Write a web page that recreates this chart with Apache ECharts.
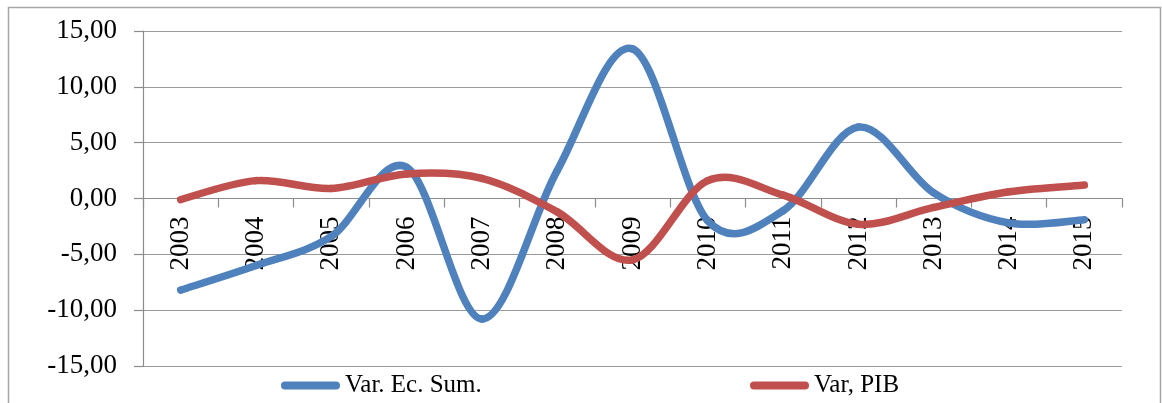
<!DOCTYPE html>
<html>
<head>
<meta charset="utf-8">
<script src="https://cdn.jsdelivr.net/npm/echarts@6/dist/echarts.min.js"></script>
<style>
html,body{margin:0;padding:0;background:#fff;}
#c{width:1162px;height:403px;}
</style>
</head>
<body>
<div id="c"></div>
<script>
const categories = ['2003','2004','2005','2006','2007','2008','2009','2010','2011','2012','2013','2014','2015'];
const varEcSum = [-8.2, -6.0, -3.4, 2.8, -10.8, 2.5, 13.4, -2.0, -1.1, 6.4, 0.5, -2.2, -1.9];
const varPIB   = [-0.1, 1.6, 0.9, 2.2, 1.8, -1.2, -5.5, 1.6, 0.3, -2.3, -0.8, 0.6, 1.2];
const seriesNames = ['Var. Ec. Sum.', 'Var, PIB'];
const seriesColors = ['#4F81BD', '#C0504D'];
const yTicks = { min: -15, max: 15, interval: 5 };

const serif = 'Liberation Serif';
const pill = 'path://M4,0L55,0A4,4,0,0,1,55,8L4,8A4,4,0,0,1,4,0Z';

// Excel-style smoothed line (Catmull-Rom through the data points),
// each segment converted with the chart's own axes via api.coord.
function smoothSeries(name, values, color, z) {
  return {
    name: name,
    type: 'custom',
    z: z,
    color: color,
    itemStyle: { color: color },
    encode: { x: 0, y: 1 },
    data: values.map((v, i) => [i, v]),
    renderItem: function (params, api) {
      const i = params.dataIndex;
      const n = values.length;
      if (i >= n - 1) return null;
      const P = j => {
        const k = Math.max(0, Math.min(n - 1, j));
        return api.coord([k, values[k]]);
      };
      const p0 = P(i - 1), p1 = P(i), p2 = P(i + 1), p3 = P(i + 2);
      return {
        type: 'bezierCurve',
        shape: {
          x1: p1[0], y1: p1[1], x2: p2[0], y2: p2[1],
          cpx1: p1[0] + (p2[0] - p0[0]) / 6, cpy1: p1[1] + (p2[1] - p0[1]) / 6,
          cpx2: p2[0] - (p3[0] - p1[0]) / 6, cpy2: p2[1] - (p3[1] - p1[1]) / 6
        },
        style: { fill: null, stroke: color, lineWidth: 7.5, lineCap: 'round' }
      };
    }
  };
}

const chart = echarts.init(document.getElementById('c'));
chart.setOption({
  animation: false,
  backgroundColor: '#fff',
  graphic: [{
    type: 'rect',
    shape: { x: 8.5, y: 7.5, width: 1152, height: 420 },
    style: { fill: 'none', stroke: '#a6a6a6', lineWidth: 1.5 },
    silent: true
  }],
  grid: { left: 143, right: 40, top: 31, bottom: 37, containLabel: false, outerBoundsMode: 'none' },
  legend: [
    { data: [seriesNames[0]], left: 281, top: 373, padding: 0, itemWidth: 59, itemHeight: 8, itemGap: 0,
      icon: pill, textStyle: { fontFamily: serif, fontSize: 25, color: '#000' } },
    { data: [seriesNames[1]], left: 750, top: 373, padding: 0, itemWidth: 59, itemHeight: 8, itemGap: 0,
      icon: pill, textStyle: { fontFamily: serif, fontSize: 25, color: '#000' } }
  ],
  xAxis: {
    type: 'category',
    data: categories,
    boundaryGap: true,
    position: 'bottom',
    offset: -167.5,
    axisLine: { show: true, onZero: false, lineStyle: { color: '#8c8c8c', width: 1.2 } },
    axisTick: { show: true, length: 9, lineStyle: { color: '#8c8c8c', width: 1.2 } },
    axisLabel: { rotate: 90, margin: 18, interval: 0, fontFamily: serif, fontSize: 27, color: '#000' },
    splitLine: { show: false }
  },
  yAxis: {
    type: 'value',
    min: yTicks.min, max: yTicks.max, interval: yTicks.interval,
    axisLine: { show: true, lineStyle: { color: '#8c8c8c', width: 1.2 } },
    axisTick: { show: true, length: 9, lineStyle: { color: '#8c8c8c', width: 1.2 } },
    axisLabel: { margin: 26, fontFamily: serif, fontSize: 27, color: '#000',
      formatter: v => v.toFixed(2).replace('.', ',') },
    splitLine: { show: true, lineStyle: { color: '#9a9a9a', width: 1.2 } }
  },
  series: [
    smoothSeries(seriesNames[0], varEcSum, seriesColors[0], 2),
    smoothSeries(seriesNames[1], varPIB, seriesColors[1], 3)
  ]
});
</script>
</body>
</html>
